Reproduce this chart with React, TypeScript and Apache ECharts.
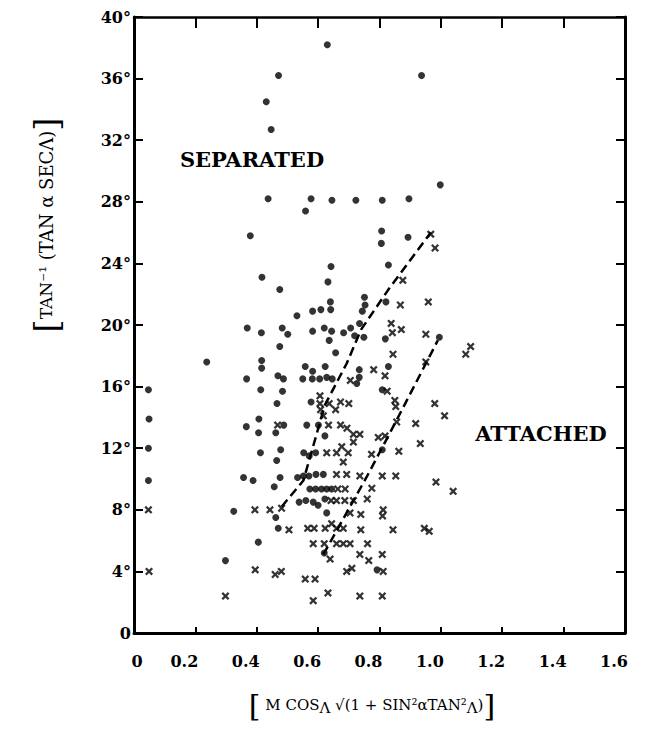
import React, { useEffect, useRef } from 'react';
import * as echarts from 'echarts';

// Separated flow (filled dots)
const separated: [number, number][] = [
  [0.63, 38.2], [0.471, 36.2], [0.431, 34.5], [0.447, 32.7], [0.937, 36.2], [0.998, 29.1],
  [0.437, 28.2], [0.577, 28.2], [0.559, 27.4], [0.645, 28.1], [0.723, 28.1], [0.809, 28.1], [0.896, 28.2],
  [0.379, 25.8], [0.807, 26.1], [0.806, 25.3], [0.893, 25.7],
  [0.417, 23.1], [0.642, 23.8], [0.829, 23.9], [0.632, 22.8], [0.475, 22.3],
  [0.64, 21.5], [0.641, 21.0], [0.751, 21.8], [0.753, 21.3], [0.744, 20.9], [0.821, 21.5],
  [0.582, 20.9], [0.609, 21.0], [0.531, 20.6],
  [0.735, 20.1], [0.706, 19.8], [0.683, 19.5], [0.719, 19.3], [0.749, 19.2], [0.819, 19.1], [0.995, 19.2],
  [0.644, 19.6], [0.62, 19.8], [0.636, 19.0], [0.582, 19.6],
  [0.369, 19.8], [0.415, 19.5], [0.483, 19.8], [0.501, 19.4], [0.475, 18.6], [0.657, 18.2],
  [0.237, 17.6], [0.416, 17.7], [0.416, 17.2],
  [0.558, 17.3], [0.582, 17.0], [0.623, 17.3], [0.734, 17.1], [0.734, 16.6], [0.829, 17.3],
  [0.367, 16.5], [0.469, 16.7], [0.487, 16.5], [0.55, 16.5], [0.581, 16.5], [0.605, 16.5], [0.628, 16.6], [0.646, 16.5], [0.726, 16.2],
  [0.047, 15.8], [0.413, 15.8], [0.484, 15.7], [0.809, 15.8],
  [0.466, 14.9], [0.577, 15.0],
  [0.049, 13.9], [0.407, 13.9], [0.366, 13.4], [0.406, 13.0], [0.462, 13.0], [0.488, 13.5], [0.563, 13.5], [0.601, 13.5], [0.622, 12.8],
  [0.047, 12.0], [0.412, 11.7], [0.478, 11.9], [0.465, 11.2], [0.553, 11.7], [0.571, 11.5], [0.592, 11.7], [0.809, 11.9],
  [0.047, 9.9], [0.357, 10.1], [0.388, 9.9], [0.476, 10.1], [0.457, 9.5],
  [0.533, 10.1], [0.552, 10.2], [0.57, 10.2], [0.593, 10.3], [0.617, 10.3],
  [0.573, 9.35], [0.592, 9.35], [0.611, 9.35], [0.628, 9.35], [0.644, 9.35],
  [0.538, 8.5], [0.56, 8.6], [0.584, 8.5], [0.6, 8.3], [0.622, 8.7],
  [0.325, 7.9], [0.462, 7.5], [0.628, 7.8],
  [0.47, 6.8],
  [0.405, 5.9], [0.62, 5.2],
  [0.298, 4.7], [0.792, 4.1],
];

// Attached flow (x marks)
const attached: [number, number][] = [
  [0.047, 8.0], [0.049, 4.0],
  [0.967, 25.9], [0.981, 25.0], [0.876, 22.9], [0.868, 21.3], [0.959, 21.5],
  [0.838, 20.1], [0.842, 19.5], [0.871, 19.7], [0.951, 19.4],
  [0.844, 18.1], [1.081, 18.1], [1.097, 18.6], [0.951, 17.6],
  [0.781, 17.1], [0.818, 16.7], [0.705, 16.4], [0.825, 15.7],
  [0.606, 15.4], [0.606, 14.9], [0.636, 14.9], [0.673, 15.0], [0.7, 14.9], [0.657, 14.5], [0.608, 14.5], [0.617, 14.1],
  [0.85, 15.1], [0.853, 14.7], [0.98, 14.9], [1.012, 14.1],
  [0.856, 13.7], [0.918, 13.6],
  [0.468, 13.5], [0.634, 13.5], [0.673, 13.5], [0.694, 13.3], [0.715, 12.9], [0.736, 12.9], [0.715, 12.4], [0.796, 12.7], [0.818, 12.8], [0.933, 12.3],
  [0.628, 11.7], [0.66, 11.7], [0.677, 12.1], [0.698, 11.7], [0.682, 11.1], [0.774, 11.6], [0.863, 11.8],
  [0.66, 10.3], [0.693, 10.3], [0.736, 10.2], [0.809, 10.2], [0.853, 10.2], [0.984, 9.8], [1.04, 9.2],
  [0.664, 9.35], [0.688, 9.35], [0.775, 9.4],
  [0.642, 8.6], [0.66, 8.6], [0.687, 8.6], [0.715, 8.6], [0.76, 8.7],
  [0.394, 8.0], [0.443, 8.0], [0.481, 8.1], [0.812, 8.0], [0.81, 7.6],
  [0.704, 7.8], [0.739, 7.7],
  [0.505, 6.7], [0.566, 6.8], [0.587, 6.8], [0.623, 6.8], [0.644, 7.1], [0.66, 6.8], [0.682, 6.8], [0.739, 6.7], [0.844, 6.7], [0.946, 6.8], [0.962, 6.6],
  [0.584, 5.8], [0.62, 5.8], [0.66, 5.8], [0.682, 5.8], [0.704, 5.8], [0.761, 5.8],
  [0.639, 4.8], [0.736, 5.1], [0.765, 4.7], [0.809, 5.1],
  [0.395, 4.1], [0.46, 3.8], [0.48, 4.0], [0.558, 3.5], [0.59, 3.5], [0.693, 4.0], [0.71, 4.2], [0.812, 4.0],
  [0.298, 2.4], [0.584, 2.1], [0.632, 2.6], [0.736, 2.4], [0.809, 2.4],
];

// Dashed boundary curves
const upperBoundary: [number, number][] = [
  [0.481, 8.2], [0.552, 9.9], [0.622, 14.8], [0.693, 17.5], [0.74, 19.7], [0.829, 22.3], [0.967, 26.0],
];
const lowerBoundary: [number, number][] = [
  [0.617, 5.1], [0.76, 10.2], [0.85, 13.6], [0.99, 19.0],
];

const xTickLabels = ['0', '0.2', '0.4', '0.6', '0.8', '1.0', '1.2', '1.4', '1.6'];
const yTickLabels = ['0', '4°', '8°', '12°', '16°', '20°', '24°', '28°', '32°', '36°', '40°'];

const FONT = 'DejaVu Serif';
const X_MARK =
  'path://M0,0.2 L0.2,0 L0.5,0.3 L0.8,0 L1,0.2 L0.7,0.5 L1,0.8 L0.8,1 L0.5,0.7 L0.2,1 L0,0.8 L0.3,0.5 Z';

export default function App() {
  const ref = useRef<HTMLDivElement>(null);
  useEffect(() => {
    const chart = echarts.init(ref.current!, null, { renderer: 'svg' });
    const tickStyle = { color: '#000', width: 2 };
    const option = {
      animation: false,
      backgroundColor: '#fff',
      grid: { left: 134, right: 24, top: 17, bottom: 97 },
      xAxis: [
        {
          type: 'value', min: 0, max: 1.6, interval: 0.2, position: 'bottom',
          axisLine: { onZero: false, lineStyle: { color: '#000', width: 3 } },
          axisTick: { inside: true, length: 6, lineStyle: tickStyle },
          splitLine: { show: false },
          axisLabel: {
            color: '#000', fontFamily: FONT, fontWeight: 'bold', fontSize: 16, margin: 20,
            padding: [0, 22, 0, 0],
            formatter: (v: number) => {
              const i = Math.round(v / 0.2);
              return i === 0 ? '{z|' + xTickLabels[i] + '}' : xTickLabels[i];
            },
            rich: {
              z: { padding: [0, 0, 0, 28], fontFamily: FONT, fontWeight: 'bold', fontSize: 16, color: '#000' },
            },
          },
        },
        {
          type: 'value', min: 0, max: 1.6, interval: 0.2, position: 'top',
          axisLine: { onZero: false, lineStyle: { color: '#000', width: 2.5 } },
          axisTick: { inside: true, length: 11, lineStyle: tickStyle },
          splitLine: { show: false },
          axisLabel: { show: false },
        },
      ],
      yAxis: [
        {
          type: 'value', min: 0, max: 40, interval: 4, position: 'left',
          axisLine: { onZero: false, lineStyle: { color: '#000', width: 3 } },
          axisTick: { inside: true, length: 9, lineStyle: tickStyle },
          splitLine: { show: false },
          axisLabel: {
            color: '#000', fontFamily: FONT, fontWeight: 'bold', fontSize: 16, margin: 3,
            formatter: (v: number) => yTickLabels[Math.round(v / 4)],
          },
        },
        {
          type: 'value', min: 0, max: 40, interval: 4, position: 'right',
          axisLine: { onZero: false, lineStyle: { color: '#000', width: 3 } },
          axisTick: { inside: true, length: 9, lineStyle: tickStyle },
          splitLine: { show: false },
          axisLabel: { show: false },
        },
      ],
      series: [
        {
          name: 'Separated', type: 'scatter', data: separated,
          symbol: 'circle', symbolSize: 7, itemStyle: { color: '#000' },
        },
        {
          name: 'Attached', type: 'scatter', data: attached,
          symbol: X_MARK, symbolSize: 8, itemStyle: { color: '#000' },
        },
        {
          name: 'Upper boundary', type: 'line', data: upperBoundary, showSymbol: false, symbol: 'none',
          lineStyle: { color: '#000', width: 2.5, type: [9, 5] }, z: 1,
        },
        {
          name: 'Lower boundary', type: 'line', data: lowerBoundary, showSymbol: false, symbol: 'none',
          lineStyle: { color: '#000', width: 2.5, type: [9, 5] }, z: 1,
        },
      ],
      graphic: [
        {
          type: 'text', x: 252, y: 159,
          style: {
            text: 'SEPARATED', fill: '#000', font: `bold 21px "${FONT}"`,
            align: 'center', verticalAlign: 'middle',
          },
        },
        {
          type: 'text', x: 541, y: 433,
          style: {
            text: 'ATTACHED', fill: '#000', font: `bold 21px "${FONT}"`,
            align: 'center', verticalAlign: 'middle',
          },
        },
        {
          type: 'text', x: 372, y: 705,
          style: {
            text: '{br|[} M COS{lam|Λ} √(1 + SIN²αTAN²{lam|Λ}){br|]}',
            fill: '#000', fontFamily: FONT, fontSize: 15,
            align: 'center', verticalAlign: 'middle',
            rich: {
              br: { fontSize: 30, fontFamily: FONT, fill: '#000' },
              lam: { fontSize: 15, fontFamily: FONT, fill: '#000', padding: [6, 0, 0, 0] },
            },
          },
        },
        {
          type: 'text', x: 46, y: 225, rotation: Math.PI / 2,
          style: {
            text: '{br|[}{sc|TAN⁻¹} (TAN α SEC{lam|Λ}){br|]}',
            fill: '#000', fontFamily: FONT, fontSize: 18,
            align: 'center', verticalAlign: 'middle',
            rich: {
              br: { fontSize: 34, fontFamily: FONT, fill: '#000' },
              sc: { fontSize: 17, fontFamily: FONT, fill: '#000' },
              lam: { fontSize: 18, fontFamily: FONT, fill: '#000' },
            },
          },
        },
      ],
    };
    chart.setOption(option as any);
    return () => chart.dispose();
  }, []);
  return (
    <div
      ref={ref}
      style={{ position: 'fixed', left: 0, top: 0, width: 649, height: 730, background: '#fff' }}
    />
  );
}
